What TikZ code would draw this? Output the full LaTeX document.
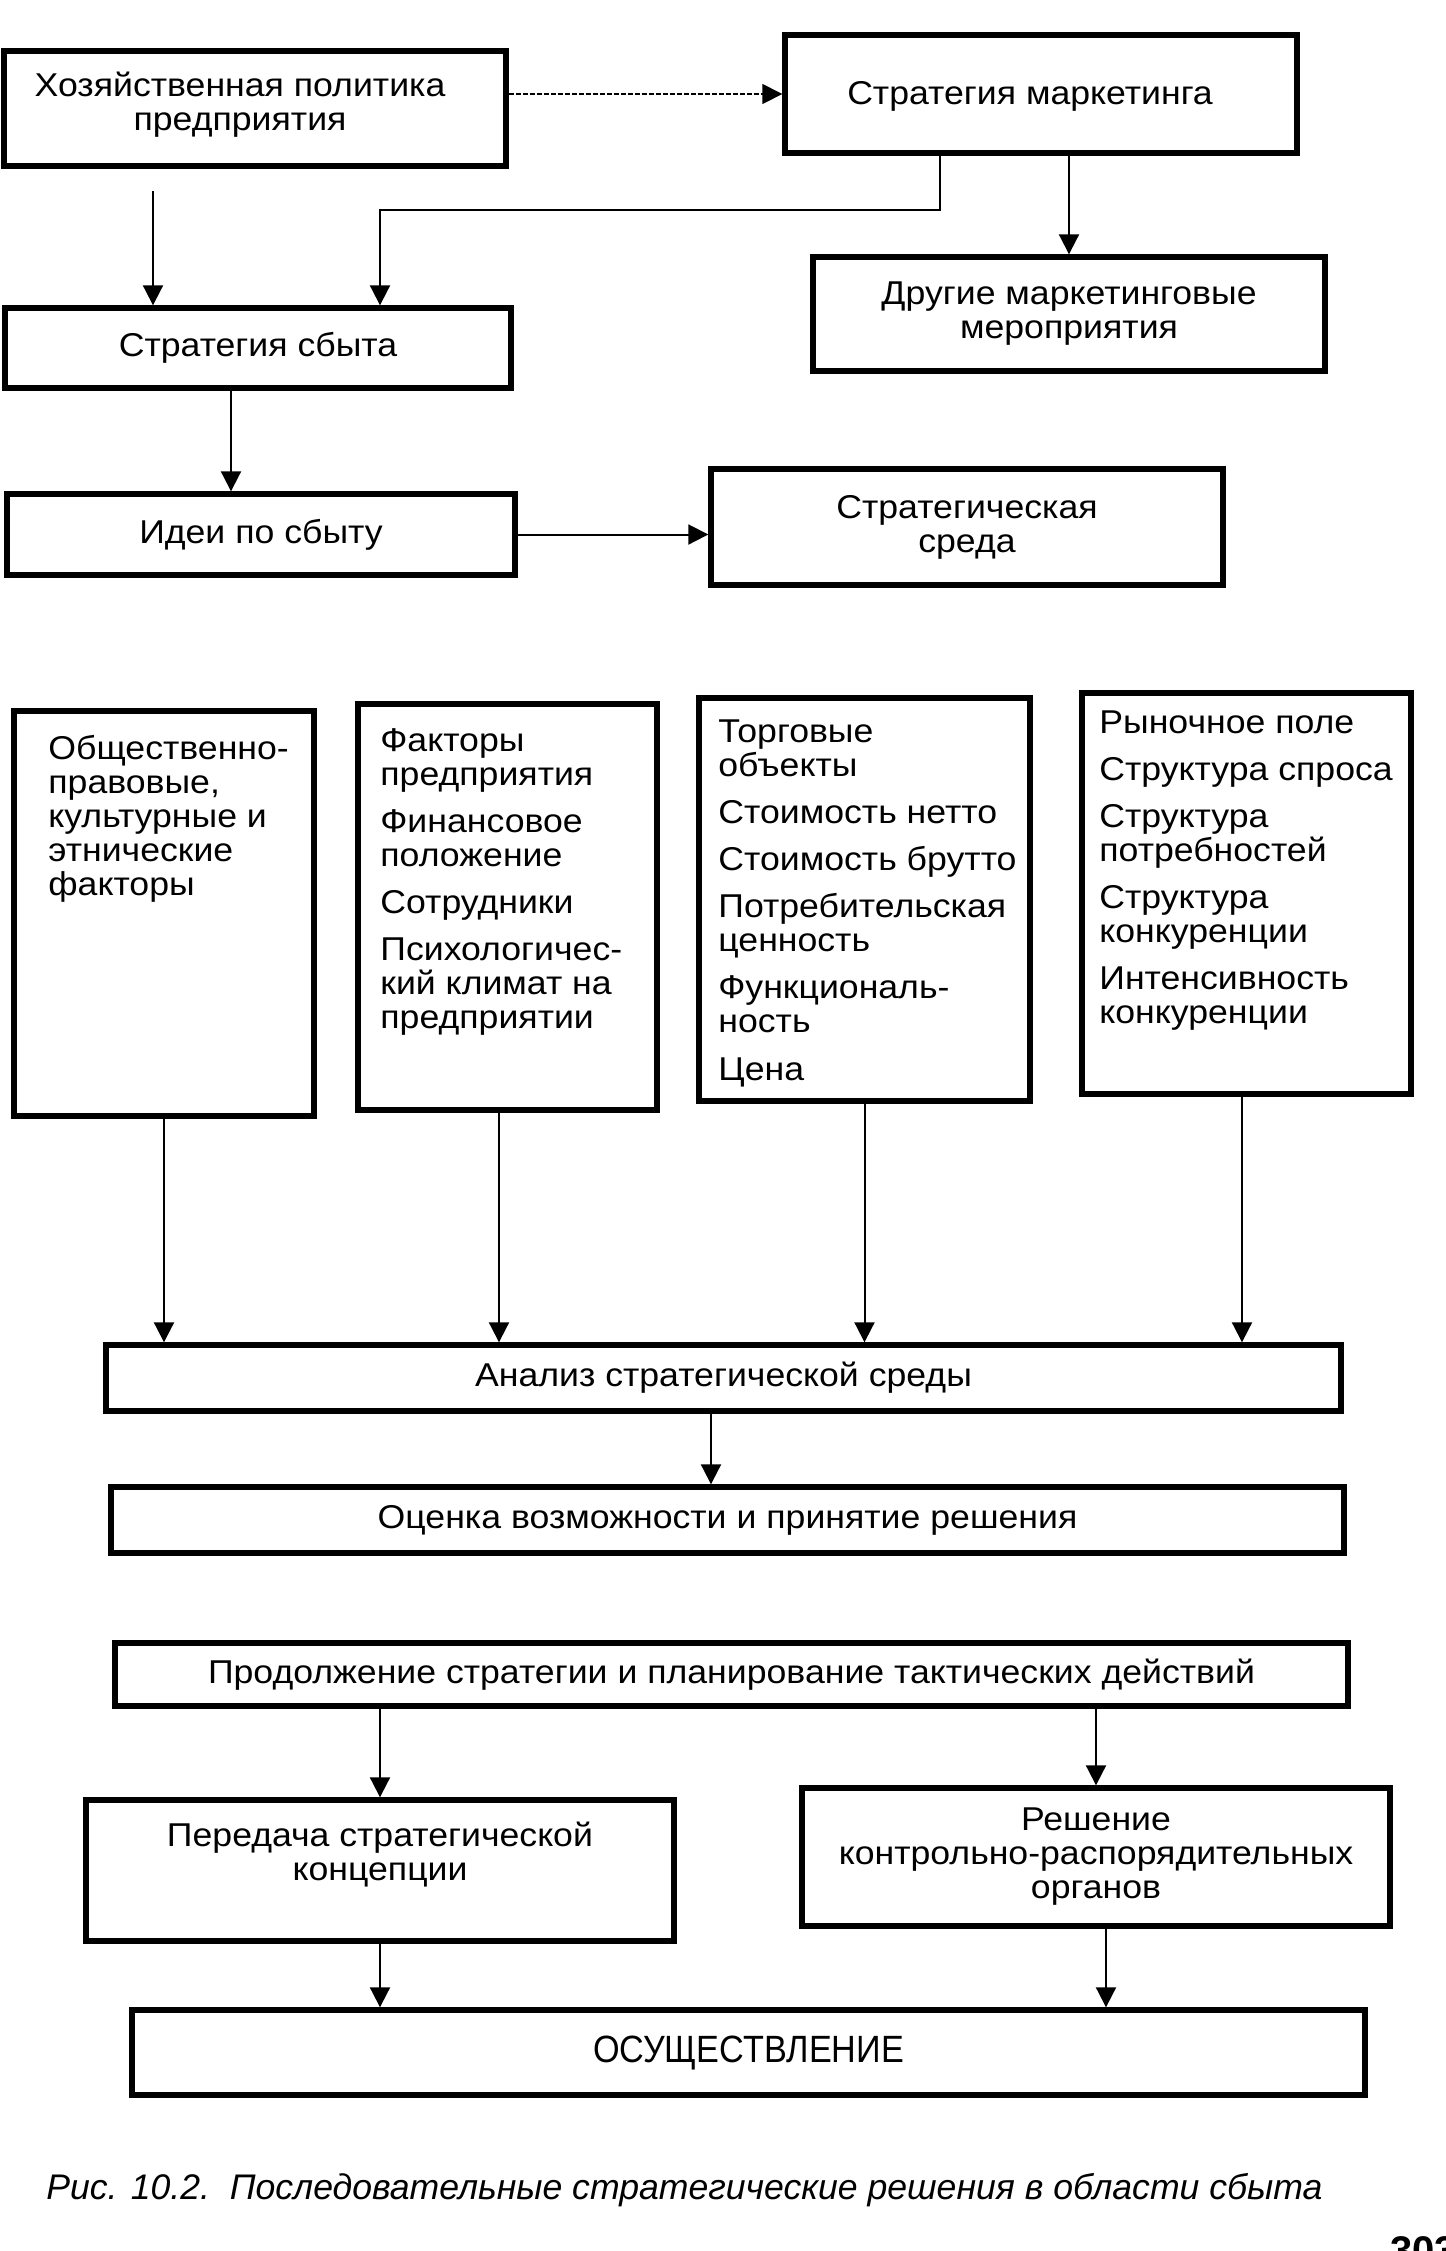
\documentclass[tikz,border=0pt]{standalone}
\usepackage{fontspec}
\setmainfont{Liberation Sans}[FakeStretch=1.08]
\newfontfamily\plainsans{Liberation Sans}
\newfontfamily\narrowsans{Liberation Sans}[FakeStretch=0.9]
\usetikzlibrary{arrows.meta}
\newcommand\bxf{\fontsize{16.5}{17}\selectfont}
\begin{document}
\begin{tikzpicture}[x=0.5pt,y=-0.5pt,
  box/.style={draw, line width=2.7pt, inner sep=0pt, align=center, font=\bxf},
  lst/.style={inner sep=0pt, align=left, font=\bxf, anchor=north west},
  arr/.style={line width=1pt, -{Triangle[width=10pt,length=10pt]}},
  dotarr/.style={line width=0.8pt, dash pattern=on 2.5pt off 1pt, -{Triangle[width=10pt,length=10pt]}}
]
\useasboundingbox (0,0) rectangle (1446,2251);
\clip (0,0) rectangle (1446,2251);
\fill[white] (0,0) rectangle (1446,2251);

% top part
\node[box, minimum width=251pt, minimum height=57.5pt] (A) at (255,108.5) {};
\node[align=center, font=\bxf, inner sep=0pt] (AT) at (240,105) {Хозяйственная политика\\предприятия};
\node[box, minimum width=256pt, minimum height=59pt] (B) at (1041,94) {};
\node[font=\bxf, inner sep=0pt] (BT) at (1030,96) {Стратегия маркетинга};
\node[box, minimum width=253pt, minimum height=40pt] (C) at (258,348) {Стратегия сбыта};
\node[box, minimum width=256pt, minimum height=57pt] (D) at (1069,314) {Другие маркетинговые\\мероприятия};
\node[box, minimum width=254pt, minimum height=40.5pt] (E) at (261,534.5) {Идеи по сбыту};
\node[box, minimum width=256pt, minimum height=58pt] (F) at (967,527) {Стратегическая\\среда};

% four factor boxes
\node[box, minimum width=150pt, minimum height=202.5pt] (G1) at (164,913.5) {};
\node[box, minimum width=149.5pt, minimum height=203pt] (G2) at (507.5,907) {};
\node[box, minimum width=165.5pt, minimum height=201.5pt] (G3) at (864.5,899.5) {};
\node[box, minimum width=164.5pt, minimum height=200.5pt] (G4) at (1246.5,893.5) {};

\node[lst] (T1) at (48,735) {Общественно-\\правовые,\\культурные и\\этнические\\факторы};
\node[lst] (T2) at (380,728) {Факторы\\предприятия\\[6.5pt]Финансовое\\положение\\[6.5pt]Сотрудники\\[6.5pt]Психологичес-\\кий климат на\\предприятии};
\node[lst] (T3) at (718,719) {Торговые\\объекты\\[6.5pt]Стоимость нетто\\[6.5pt]Стоимость брутто\\[6.5pt]Потребительская\\ценность\\[6.5pt]Функциональ-\\ность\\[7pt]Цена};
\node[lst] (T4) at (1099,710) {Рыночное поле\\[6.5pt]Структура спроса\\[6.5pt]Структура\\потребностей\\[6.5pt]Структура\\конкуренции\\[6.5pt]Интенсивность\\конкуренции};

% lower part
\node[box, minimum width=617.5pt, minimum height=33pt] (H) at (723.5,1378) {Анализ стратегической среды};
\node[box, minimum width=616.5pt, minimum height=33pt] (I) at (727.5,1520) {Оценка возможности и принятие решения};
\node[box, minimum width=616.5pt, minimum height=31.5pt] (J) at (731.5,1674.5) {Продолжение стратегии и планирование тактических действий};
\node[box, minimum width=294pt, minimum height=70.5pt] (K) at (380,1870.5) {};
\node[align=center, font=\bxf, inner sep=0pt] (KT) at (380,1855) {Передача стратегической\\концепции};
\node[box, minimum width=294pt, minimum height=69pt] (L) at (1096,1857) {Решение\\контрольно-распорядительных\\органов};
\node[box, minimum width=616.5pt, minimum height=42.5pt, font=\narrowsans\fontsize{19}{20}\selectfont] (M) at (748.5,2052.5) {ОСУЩЕСТВЛЕНИЕ};

\node[font=\plainsans\fontsize{17.8}{20}\selectfont\itshape, anchor=west, inner sep=0pt] (CAP) at (46,2190) {Рис. 10.2.\ \ Последовательные стратегические решения в области сбыта};
\node[font=\plainsans\fontsize{20}{20}\selectfont\bfseries, anchor=north west, inner sep=0pt] (PG) at (1390,2236) {303};

% connectors
\draw[dotarr] (A.east |- B.west) -- (B.west);
\coordinate (a1) at (153,191);
\draw[arr] (a1) -- (a1 |- C.north);
\coordinate (b1) at (940,210);
\coordinate (b2) at (380,210);
\draw[arr] (B.south -| b1) -- (b1) -- (b2) -- (b2 |- C.north);
\draw[arr] (B.south -| D.north) -- (D.north);
\coordinate (c1) at (231,0);
\draw[arr] (C.south -| c1) -- (E.north -| c1);
\draw[arr] (E.east) -- (E.east -| F.west);

\draw[arr] (G1.south) -- (G1.south |- H.north);
\coordinate (g2) at (499,0);
\draw[arr] (G2.south -| g2) -- (H.north -| g2);
\draw[arr] (G3.south) -- (G3.south |- H.north);
\coordinate (g4) at (1242,0);
\draw[arr] (G4.south -| g4) -- (H.north -| g4);

\coordinate (h1) at (711,0);
\draw[arr] (H.south -| h1) -- (I.north -| h1);
\draw[arr] (J.south -| K.north) -- (K.north);
\draw[arr] (J.south -| L.north) -- (L.north);
\draw[arr] (K.south) -- (K.south |- M.north);
\coordinate (l1) at (1106,0);
\draw[arr] (L.south -| l1) -- (M.north -| l1);
\end{tikzpicture}
\end{document}
